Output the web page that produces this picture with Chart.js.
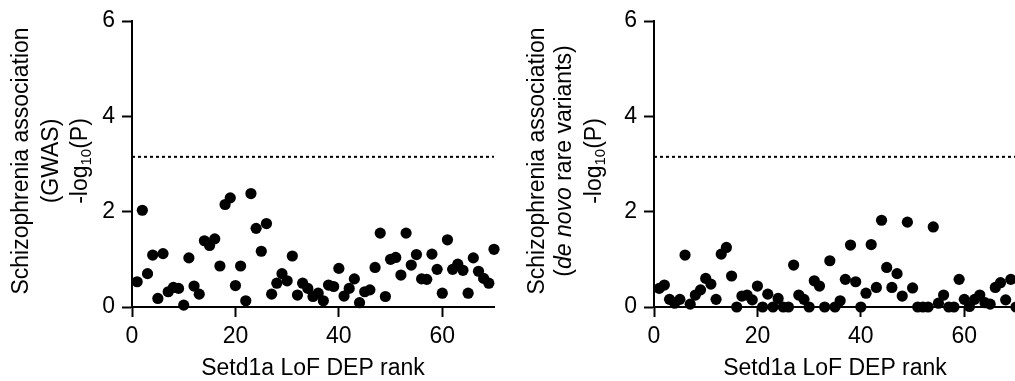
<!DOCTYPE html>
<html>
<head>
<meta charset="utf-8">
<script src="https://cdn.jsdelivr.net/npm/chart.js@4"></script>
<style>
  html, body { margin: 0; padding: 0; background: #fff; overflow: hidden; width: 1015px; height: 381px; }
  .panel { position: absolute; top: 0; height: 381px; }
  #gwasWrap { left: 0; width: 508px; }
  #denovoWrap { left: 508px; width: 520px; }
</style>
</head>
<body>
<div class="panel" id="gwasWrap"><canvas id="gwasChart"></canvas></div>
<div class="panel" id="denovoWrap"><canvas id="denovoChart"></canvas></div>
<script>
// Setd1a LoF DEP rank (x) shared by both panels
const ranks = [1,2,3,4,5,6,7,8,9,10,11,12,13,14,15,16,17,18,19,20,
  21,22,23,24,25,26,27,28,29,30,31,32,33,34,35,36,37,38,39,40,
  41,42,43,44,45,46,47,48,49,50,51,52,53,54,55,56,57,58,59,60,
  61,62,63,64,65,66,67,68,69,70];

// -log10(P), GWAS
const gwasLogP = [0.53,2.03,0.70,1.09,0.18,1.12,0.32,0.41,0.39,0.04,
  1.03,0.44,0.27,1.39,1.29,1.43,0.86,2.15,2.29,0.45,
  0.86,0.13,2.38,1.65,1.17,1.75,0.27,0.50,0.70,0.55,
  1.07,0.25,0.50,0.39,0.22,0.29,0.13,0.46,0.43,0.81,
  0.23,0.39,0.59,0.09,0.32,0.36,0.83,1.55,0.22,1.00,
  1.04,0.67,1.55,0.88,1.10,0.59,0.58,1.11,0.79,0.29,
  1.41,0.79,0.90,0.77,0.29,1.03,0.75,0.60,0.50,1.21];

// -log10(P), de novo rare variants
const denovoLogP = [0.39,0.46,0.16,0.08,0.16,1.09,0.06,0.25,0.36,0.60,
  0.48,0.16,1.11,1.25,0.65,0.00,0.23,0.25,0.15,0.44,
  0.00,0.27,0.00,0.18,0.00,0.00,0.88,0.25,0.16,0.00,
  0.55,0.44,0.00,0.97,0.00,0.13,0.58,1.30,0.53,0.00,
  0.29,1.31,0.41,1.82,0.83,0.41,0.70,0.23,1.78,0.40,
  0.00,0.00,0.00,1.68,0.08,0.25,0.00,0.00,0.58,0.16,
  0.01,0.16,0.25,0.09,0.06,0.41,0.51,0.15,0.58,0.00];

const threshold = 3.15;          // Bonferroni line
const xRange = [0, 70];
const yRange = [0, 6];
const xTicks = [0, 20, 40, 60];
const yTicks = [0, 2, 4, 6];
const xTitle = 'Setd1a LoF DEP rank';

const FONT = "'Liberation Sans', Arial, sans-serif";

// rotated multi-line y title with italic / subscript runs
const stackedTitle = {
  id: 'stackedTitle',
  afterDraw(chart, args, opts) {
    if (!opts.lines) return;
    const ctx = chart.ctx;
    const fontOf = s => (s.italic ? 'italic ' : '') + (s.sub ? 15 : 23) + 'px ' + FONT;
    ctx.save();
    ctx.fillStyle = '#000';
    ctx.textBaseline = 'middle';
    ctx.textAlign = 'left';
    opts.lines.forEach((segs, i) => {
      const parts = segs.map(s => {
        ctx.font = fontOf(s);
        return { s, f: fontOf(s), w: ctx.measureText(s.t).width };
      });
      const total = parts.reduce((a, p) => a + p.w, 0);
      ctx.save();
      ctx.translate(opts.xs[i], opts.cy);
      ctx.rotate(-Math.PI / 2);
      let pos = -total / 2;
      parts.forEach(p => {
        ctx.font = p.f;
        ctx.fillText(p.s.t, pos, p.s.sub ? 6 : 0);
        pos += p.w;
      });
      ctx.restore();
    });
    ctx.restore();
  }
};

function makePanel(id, values, yAxisWidth, padRight, title) {
  const pts = ranks.map((r, i) => ({ x: r, y: values[i] }));
  return new Chart(document.getElementById(id), {
    type: 'scatter',
    data: {
      datasets: [
        {
          data: pts,
          backgroundColor: '#000',
          borderWidth: 0,
          pointRadius: 5.6,
          pointHoverRadius: 5.6,
          clip: false
        },
        {
          type: 'line',
          data: [{ x: xRange[0], y: threshold }, { x: xRange[1], y: threshold }],
          borderColor: '#000',
          borderWidth: 2,
          borderDash: [3, 3],
          pointRadius: 0,
          fill: false
        }
      ]
    },
    options: {
      responsive: true, maintainAspectRatio: false,
      animation: false,
      layout: { padding: { top: 21, right: padRight, bottom: 0, left: 0 } },
      plugins: {
        legend: { display: false },
        tooltip: { enabled: false },
        stackedTitle: title
      },
      scales: {
        x: {
          type: 'linear', min: xRange[0], max: xRange[1],
          afterBuildTicks: s => { s.ticks = xTicks.map(v => ({ value: v })); },
          afterFit: s => { s.height = 74; },
          ticks: { color: '#000', padding: 6, font: { family: FONT, size: 23 } },
          grid: { drawOnChartArea: false, drawTicks: true, tickLength: 10, tickWidth: 2, tickColor: '#000' },
          border: { color: '#000', width: 2 },
          title: { display: true, text: xTitle, color: '#000', padding: { top: 0, bottom: -1 }, font: { family: FONT, size: 23 } }
        },
        y: {
          type: 'linear', min: yRange[0], max: yRange[1],
          afterBuildTicks: s => { s.ticks = yTicks.map(v => ({ value: v })); },
          afterFit: s => { s.width = yAxisWidth; },
          ticks: { color: '#000', padding: 7, font: { family: FONT, size: 23 } },
          grid: { drawOnChartArea: false, drawTicks: true, tickLength: 10, tickWidth: 2, tickColor: '#000' },
          border: { color: '#000', width: 2 }
        }
      }
    },
    plugins: [stackedTitle]
  });
}

makePanel('gwasChart', gwasLogP, 132, 14, {
  xs: [22, 51.5, 81], cy: 161,
  lines: [
    [{ t: 'Schizophrenia association' }],
    [{ t: '(GWAS)' }],
    [{ t: '-log' }, { t: '10', sub: true }, { t: '(P)' }]
  ]
});

makePanel('denovoChart', denovoLogP, 146, 12, {
  xs: [29.5, 57, 87], cy: 161,
  lines: [
    [{ t: 'Schizophrenia association' }],
    [{ t: '(' }, { t: 'de novo', italic: true }, { t: ' rare variants)' }],
    [{ t: '-log' }, { t: '10', sub: true }, { t: '(P)' }]
  ]
});
</script>
</body>
</html>
